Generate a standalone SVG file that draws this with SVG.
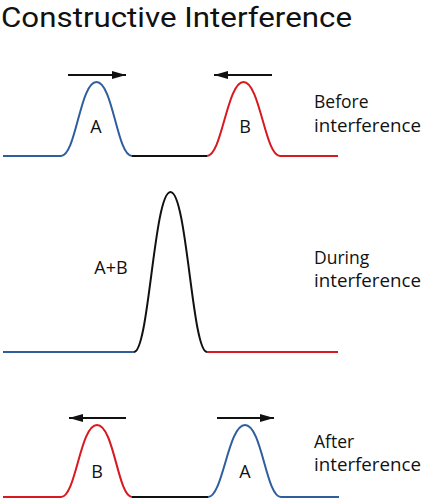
<svg xmlns="http://www.w3.org/2000/svg" width="425" height="500" viewBox="0 0 425 500">
<defs>
<style>
.t{font-family:"Open Sans","Liberation Sans",sans-serif;fill:#111}
.lab{font-size:18px}
.side{font-size:17.5px}
.w{fill:none;stroke-width:2;stroke-linecap:butt;stroke-linejoin:round}
.blue{stroke:#2f5e9e}
.red{stroke:#d71920}
.blk{stroke:#111}
.arr{stroke:#111;stroke-width:2;fill:none}
</style>
<marker id="ah" viewBox="0 0 14 8" refX="14" refY="4" markerWidth="14" markerHeight="8" markerUnits="userSpaceOnUse" orient="auto">
<path d="M0,0 L14,4 L0,8 Z" fill="#111"/>
</marker>
</defs>
<rect width="425" height="500" fill="#fff"/>
<text id="title" x="1" y="26.5" font-family="Roboto,'Liberation Sans',sans-serif" font-size="28" fill="#111" textLength="351" lengthAdjust="spacingAndGlyphs">Constructive Interference</text>

<g id="before">
<path class="w blue" d="M3,156 H61 C76,156 80,82 96.5,82 C113,82 117,156 132,156"/>
<path class="w blk" d="M132,156 H207"/>
<path class="w red" d="M207,156 C222,156 227,82 243.5,82 C260,82 265,156 280,156 H338"/>
<text class="t lab" x="96" y="133" text-anchor="middle">A</text>
<text class="t lab" x="245" y="133" text-anchor="middle">B</text>
<text class="t side" x="314" y="108">Before</text>
<text class="t side" x="314" y="132" textLength="107" lengthAdjust="spacingAndGlyphs">interference</text>
</g>

<g id="during">
<path class="w blue" d="M3,352 H134"/>
<path class="w blk" d="M134,352 C149,352 154,192 170.5,192 C187,192 192,352 207,352"/>
<path class="w red" d="M207,352 H338"/>
<text class="t lab" x="111" y="274" text-anchor="middle">A+B</text>
<text class="t side" x="314" y="264">During</text>
<text class="t side" x="314" y="287" textLength="107" lengthAdjust="spacingAndGlyphs">interference</text>
</g>

<g id="after">
<path class="w red" d="M3,497 H61 C76,497 80,425 97,425 C114,425 118,497 132,497"/>
<path class="w blk" d="M132,497 H208"/>
<path class="w blue" d="M208,497 C223,497 228,425 245,425 C262,425 266,497 281,497 H339"/>
<text class="t lab" x="97" y="478" text-anchor="middle">B</text>
<text class="t lab" x="245" y="478" text-anchor="middle">A</text>
<text class="t side" x="314" y="448">After</text>
<text class="t side" x="314" y="471" textLength="107" lengthAdjust="spacingAndGlyphs">interference</text>
</g>

<g id="connectors">
<line class="arr" x1="68" y1="75" x2="126" y2="75" marker-end="url(#ah)"/>
<line class="arr" x1="272" y1="75" x2="214" y2="75" marker-end="url(#ah)"/>
<line class="arr" x1="126" y1="418" x2="69" y2="418" marker-end="url(#ah)"/>
<line class="arr" x1="217" y1="418" x2="274" y2="418" marker-end="url(#ah)"/>
</g>
</svg>
